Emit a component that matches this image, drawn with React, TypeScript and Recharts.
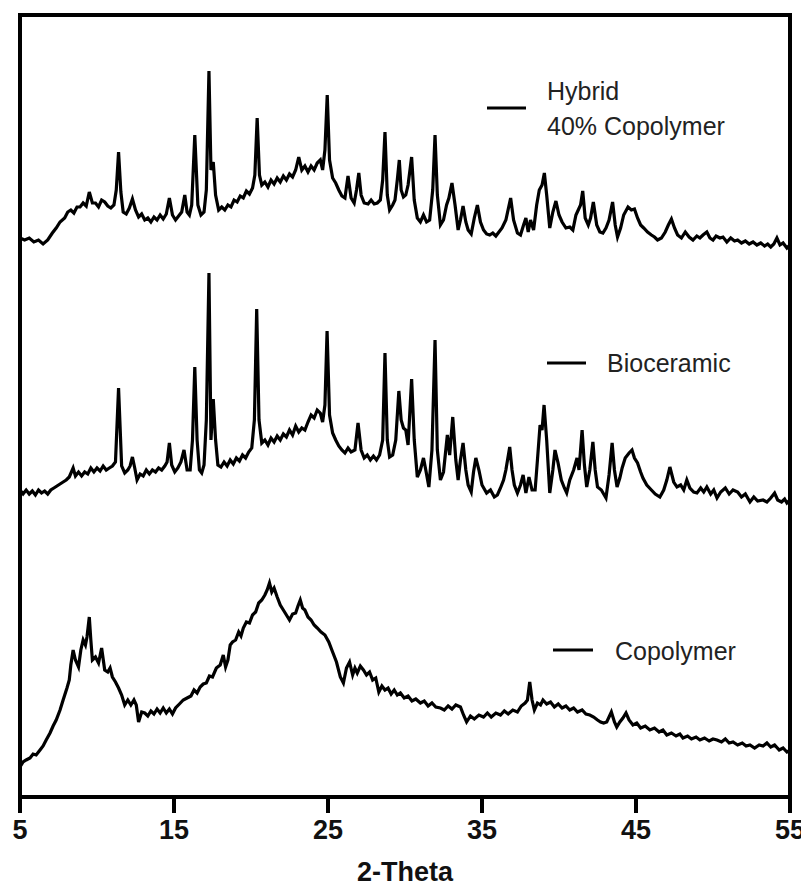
import { LineChart, Line, XAxis, YAxis, ReferenceArea } from "recharts";

// 2-theta ticks and series names
const xTicks = [5, 15, 25, 35, 45, 55];
const seriesNames = ["Hybrid|40% Copolymer", "Bioceramic", "Copolymer"];

// [2-theta, intensity (a.u., stacked offset included)]
const hybrid: [number, number][] = [
  [5.0, 559], [5.3, 557], [5.6, 559], [5.9, 555], [6.2, 557], [6.5, 553], [6.8, 557], [7.1, 564],
  [7.35, 569], [7.6, 575], [7.9, 579], [8.1, 585], [8.3, 587], [8.5, 584], [8.7, 590], [8.9, 590],
  [9.1, 594], [9.3, 591], [9.5, 605], [9.7, 594], [9.9, 594], [10.1, 590], [10.3, 597], [10.5, 595],
  [10.7, 591], [10.9, 589], [11.1, 592], [11.25, 607], [11.4, 645], [11.55, 605], [11.7, 585], [11.9, 583],
  [12.1, 589], [12.3, 598], [12.5, 587], [12.7, 580], [12.9, 583], [13.1, 577], [13.3, 579], [13.5, 575],
  [13.7, 580], [13.9, 577], [14.1, 582], [14.3, 578], [14.5, 583], [14.7, 599], [14.9, 582], [15.1, 577],
  [15.3, 581], [15.5, 585], [15.7, 602], [15.85, 585], [16.0, 582], [16.15, 592], [16.35, 662], [16.55, 592],
  [16.75, 582], [16.95, 585], [17.1, 607], [17.27, 726], [17.4, 627], [17.55, 635], [17.7, 602], [17.9, 587],
  [18.1, 590], [18.3, 587], [18.5, 592], [18.7, 590], [18.9, 597], [19.1, 595], [19.3, 601], [19.5, 599],
  [19.7, 606], [19.9, 603], [20.1, 609], [20.25, 622], [20.4, 679], [20.55, 622], [20.7, 612], [20.9, 615],
  [21.1, 610], [21.3, 617], [21.5, 613], [21.7, 619], [21.9, 615], [22.1, 621], [22.3, 617], [22.5, 623],
  [22.7, 620], [22.9, 627], [23.1, 640], [23.3, 627], [23.5, 631], [23.7, 625], [23.9, 631], [24.1, 627],
  [24.3, 634], [24.5, 637], [24.65, 627], [24.8, 647], [24.95, 702], [25.1, 637], [25.3, 619], [25.5, 614],
  [25.7, 607], [25.9, 601], [26.1, 599], [26.3, 621], [26.5, 599], [26.7, 594], [26.85, 607], [27.0, 624],
  [27.15, 602], [27.35, 594], [27.6, 593], [27.8, 597], [28.0, 593], [28.2, 594], [28.4, 597], [28.55, 617],
  [28.7, 665], [28.85, 602], [29.0, 587], [29.2, 592], [29.35, 597], [29.5, 617], [29.63, 637], [29.75, 607],
  [29.9, 600], [30.05, 602], [30.2, 612], [30.43, 640], [30.6, 597], [30.8, 579], [31.0, 575], [31.2, 582],
  [31.4, 575], [31.6, 577], [31.8, 607], [31.95, 662], [32.1, 602], [32.3, 572], [32.5, 577], [32.7, 592],
  [32.85, 599], [33.05, 614], [33.25, 592], [33.45, 567], [33.6, 577], [33.77, 591], [33.95, 575], [34.1, 567],
  [34.3, 563], [34.5, 579], [34.7, 592], [34.9, 575], [35.1, 567], [35.3, 563], [35.5, 562], [35.7, 564],
  [35.9, 561], [36.1, 565], [36.3, 569], [36.55, 577], [36.86, 599], [37.05, 577], [37.3, 564], [37.5, 562],
  [37.7, 572], [37.85, 579], [38.0, 565], [38.15, 577], [38.35, 567], [38.55, 592], [38.72, 607], [38.9, 612],
  [39.05, 624], [39.2, 602], [39.4, 569], [39.6, 585], [39.8, 596], [40.0, 582], [40.2, 575], [40.45, 569],
  [40.7, 570], [40.9, 567], [41.1, 582], [41.25, 587], [41.4, 592], [41.54, 606], [41.7, 579], [41.9, 572],
  [42.05, 579], [42.23, 595], [42.45, 572], [42.65, 565], [42.85, 564], [43.05, 569], [43.25, 577], [43.48, 595],
  [43.65, 572], [43.8, 560], [44.0, 569], [44.2, 582], [44.48, 590], [44.7, 587], [44.9, 588], [45.1, 579],
  [45.3, 572], [45.5, 569], [45.75, 565], [46.0, 562], [46.2, 560], [46.4, 557], [46.65, 559], [46.9, 565],
  [47.1, 572], [47.3, 578], [47.5, 569], [47.7, 562], [47.95, 559], [48.2, 565], [48.45, 560], [48.7, 557],
  [48.95, 561], [49.15, 559], [49.35, 562], [49.6, 565], [49.8, 559], [50.0, 557], [50.2, 561], [50.45, 559],
  [50.65, 560], [50.9, 555], [51.15, 559], [51.4, 556], [51.6, 557], [51.85, 554], [52.1, 556], [52.35, 553],
  [52.6, 555], [52.85, 552], [53.1, 554], [53.35, 551], [53.55, 553], [53.75, 550], [53.95, 553], [54.15, 559],
  [54.35, 552], [54.55, 554], [54.8, 549], [55.0, 552],
];

const bioceramic: [number, number][] = [
  [5.0, 307], [5.2, 303], [5.4, 307], [5.6, 303], [5.8, 306], [6.0, 302], [6.2, 307], [6.4, 304],
  [6.6, 306], [6.8, 303], [7.0, 307], [7.2, 309], [7.4, 311], [7.6, 313], [7.8, 315], [8.0, 317],
  [8.2, 320], [8.45, 329], [8.6, 321], [8.8, 325], [9.0, 321], [9.2, 325], [9.4, 323], [9.6, 329],
  [9.8, 325], [10.0, 329], [10.2, 326], [10.4, 331], [10.6, 327], [10.8, 329], [11.0, 331], [11.2, 335],
  [11.4, 409], [11.6, 331], [11.8, 324], [12.0, 327], [12.15, 331], [12.3, 340], [12.45, 329], [12.6, 317],
  [12.8, 323], [13.0, 321], [13.2, 327], [13.4, 323], [13.6, 327], [13.8, 325], [14.0, 329], [14.2, 327],
  [14.4, 331], [14.55, 335], [14.7, 354], [14.85, 332], [15.05, 325], [15.25, 329], [15.45, 335], [15.65, 347],
  [15.85, 327], [16.05, 327], [16.2, 357], [16.35, 430], [16.5, 357], [16.65, 327], [16.8, 324], [16.95, 332],
  [17.1, 377], [17.27, 524], [17.4, 357], [17.55, 398], [17.7, 357], [17.85, 332], [18.05, 330], [18.25, 335],
  [18.45, 331], [18.65, 337], [18.85, 333], [19.05, 339], [19.25, 336], [19.45, 342], [19.65, 339], [19.85, 345],
  [20.05, 349], [20.22, 377], [20.37, 488], [20.52, 377], [20.7, 354], [20.9, 357], [21.1, 352], [21.3, 359],
  [21.5, 355], [21.7, 361], [21.9, 357], [22.1, 363], [22.3, 360], [22.5, 367], [22.7, 362], [22.9, 371],
  [23.1, 365], [23.3, 369], [23.5, 367], [23.7, 375], [23.9, 382], [24.1, 379], [24.3, 387], [24.5, 384],
  [24.65, 375], [24.8, 392], [24.94, 466], [25.1, 382], [25.3, 364], [25.5, 357], [25.7, 351], [25.9, 347],
  [26.1, 344], [26.3, 349], [26.5, 345], [26.75, 347], [26.95, 374], [27.15, 347], [27.35, 339], [27.55, 342],
  [27.75, 337], [27.95, 341], [28.15, 337], [28.35, 342], [28.55, 357], [28.7, 444], [28.85, 357], [29.0, 340],
  [29.2, 342], [29.4, 357], [29.6, 406], [29.75, 377], [29.9, 369], [30.05, 367], [30.2, 352], [30.43, 418],
  [30.6, 357], [30.8, 320], [31.0, 327], [31.2, 339], [31.35, 327], [31.55, 310], [31.75, 347], [31.95, 457],
  [32.1, 347], [32.3, 317], [32.5, 325], [32.75, 362], [32.9, 342], [33.1, 380], [33.3, 337], [33.45, 317],
  [33.6, 337], [33.77, 354], [33.95, 327], [34.1, 312], [34.3, 305], [34.45, 325], [34.6, 339], [34.8, 327],
  [35.0, 312], [35.3, 304], [35.55, 307], [35.8, 300], [36.0, 302], [36.2, 309], [36.4, 317], [36.55, 327],
  [36.8, 350], [36.95, 327], [37.1, 312], [37.3, 304], [37.5, 312], [37.67, 322], [37.85, 304], [38.05, 320],
  [38.25, 307], [38.45, 307], [38.6, 337], [38.77, 372], [38.9, 367], [39.03, 392], [39.2, 357], [39.4, 304],
  [39.6, 327], [39.74, 347], [39.94, 334], [40.15, 317], [40.35, 309], [40.5, 304], [40.7, 317], [40.95, 327],
  [41.17, 339], [41.3, 327], [41.5, 367], [41.65, 332], [41.8, 310], [42.0, 327], [42.2, 355], [42.35, 327],
  [42.5, 310], [42.75, 307], [43.05, 299], [43.25, 322], [43.45, 354], [43.6, 327], [43.77, 310], [43.95, 319],
  [44.1, 329], [44.3, 339], [44.55, 344], [44.74, 347], [44.9, 339], [45.1, 334], [45.3, 325], [45.45, 319],
  [45.7, 312], [46.0, 307], [46.25, 303], [46.55, 300], [46.8, 307], [47.0, 317], [47.2, 330], [47.45, 315],
  [47.66, 310], [47.9, 312], [48.1, 307], [48.3, 317], [48.5, 309], [48.75, 305], [48.96, 304], [49.2, 309],
  [49.4, 305], [49.6, 310], [49.85, 303], [50.05, 307], [50.26, 299], [50.5, 305], [50.8, 309], [51.05, 303],
  [51.3, 307], [51.6, 305], [51.85, 300], [52.1, 303], [52.4, 295], [52.65, 300], [52.9, 296], [53.25, 297],
  [53.5, 295], [53.75, 299], [54.0, 304], [54.2, 297], [54.45, 295], [54.65, 298], [54.8, 294], [55.0, 297],
];

const copolymer: [number, number][] = [
  [5.0, 30], [5.2, 35], [5.4, 37], [5.65, 39], [5.85, 43], [6.05, 42], [6.3, 47], [6.5, 51],
  [6.7, 57], [6.95, 64], [7.15, 71], [7.35, 77], [7.6, 87], [7.8, 97], [8.05, 109], [8.2, 117],
  [8.3, 132], [8.45, 147], [8.6, 137], [8.8, 130], [8.95, 147], [9.1, 157], [9.25, 152], [9.35, 160],
  [9.5, 180], [9.6, 157], [9.7, 137], [9.9, 140], [10.1, 134], [10.3, 149], [10.5, 127], [10.7, 125],
  [10.85, 129], [11.0, 120], [11.2, 115], [11.4, 109], [11.6, 102], [11.8, 92], [12.0, 97], [12.2, 92],
  [12.4, 97], [12.55, 92], [12.7, 75], [12.9, 85], [13.1, 84], [13.3, 81], [13.5, 86], [13.7, 83],
  [13.9, 88], [14.1, 84], [14.3, 89], [14.5, 84], [14.7, 88], [14.9, 83], [15.1, 89], [15.35, 93],
  [15.6, 97], [15.85, 99], [16.1, 101], [16.3, 107], [16.5, 104], [16.7, 110], [16.9, 113], [17.1, 114],
  [17.3, 121], [17.5, 120], [17.75, 129], [18.0, 132], [18.2, 142], [18.35, 130], [18.5, 137], [18.65, 152],
  [18.8, 155], [19.0, 157], [19.2, 165], [19.35, 161], [19.5, 169], [19.7, 175], [19.9, 174], [20.1, 182],
  [20.3, 185], [20.5, 194], [20.7, 197], [20.9, 202], [21.05, 207], [21.2, 214], [21.35, 205], [21.5, 209],
  [21.7, 200], [21.9, 192], [22.1, 187], [22.3, 182], [22.5, 177], [22.7, 183], [22.9, 184], [23.05, 191],
  [23.2, 197], [23.35, 189], [23.5, 187], [23.7, 180], [23.9, 177], [24.1, 172], [24.3, 169], [24.55, 165],
  [24.8, 162], [25.05, 155], [25.3, 145], [25.55, 135], [25.8, 120], [26.0, 114], [26.2, 129], [26.4, 135],
  [26.6, 122], [26.75, 129], [26.9, 124], [27.1, 131], [27.3, 127], [27.5, 122], [27.7, 125], [27.9, 117],
  [28.1, 119], [28.3, 105], [28.5, 111], [28.7, 107], [28.9, 109], [29.1, 103], [29.3, 107], [29.5, 102],
  [29.7, 104], [29.95, 99], [30.2, 101], [30.45, 96], [30.7, 98], [31.0, 94], [31.25, 96], [31.5, 91],
  [31.75, 94], [32.0, 90], [32.3, 89], [32.55, 87], [32.8, 91], [33.05, 88], [33.3, 92], [33.6, 90],
  [33.8, 82], [34.0, 75], [34.25, 81], [34.5, 78], [34.8, 82], [35.1, 80], [35.35, 84], [35.6, 80],
  [35.9, 84], [36.2, 82], [36.45, 86], [36.7, 83], [37.0, 87], [37.3, 85], [37.55, 91], [37.8, 94],
  [37.95, 97], [38.1, 115], [38.25, 97], [38.4, 87], [38.6, 94], [38.8, 92], [38.96, 97], [39.2, 93],
  [39.45, 95], [39.7, 90], [39.95, 93], [40.2, 89], [40.45, 91], [40.7, 87], [40.95, 89], [41.2, 85],
  [41.5, 87], [41.75, 83], [42.0, 82], [42.25, 80], [42.5, 77], [42.7, 75], [42.9, 74], [43.1, 75],
  [43.4, 85], [43.6, 75], [43.75, 70], [43.95, 75], [44.15, 79], [44.35, 84], [44.55, 77], [44.8, 72],
  [45.05, 74], [45.3, 69], [45.6, 71], [45.9, 67], [46.2, 69], [46.5, 65], [46.75, 67], [47.0, 62],
  [47.3, 64], [47.6, 61], [47.85, 63], [48.05, 59], [48.35, 61], [48.6, 58], [48.9, 60], [49.15, 57],
  [49.45, 59], [49.75, 56], [50.0, 58], [50.26, 57], [50.55, 55], [50.8, 58], [51.05, 54], [51.3, 55],
  [51.6, 52], [51.9, 54], [52.15, 51], [52.4, 52], [52.7, 49], [53.0, 52], [53.25, 51], [53.5, 54],
  [53.75, 50], [54.0, 52], [54.3, 47], [54.55, 49], [54.8, 45], [55.0, 47],
];

const toRows = (pts: [number, number][]) => pts.map(([theta, v]) => ({ theta, v }));

const axisFont = "'Liberation Sans Narrow', 'Arial Narrow', 'Liberation Sans', Arial, sans-serif";
const legendFont = "'Liberation Sans', Arial, sans-serif";

function LegendOverlay() {
  // short black dash + label, placed beside each trace like the original figure
  const txt = { fontFamily: legendFont, fontSize: 25, fill: "#222" };
  return (
    <svg width={801} height={885} style={{ position: "absolute", left: 0, top: 0, pointerEvents: "none" }}>
      <line x1={479} x2={518} y1={100} y2={100} stroke="#000" strokeWidth={3} />
      <text x={539} y={92} {...txt}>{seriesNames[0].split("|")[0]}</text>
      <text x={539} y={127} {...txt}>{seriesNames[0].split("|")[1]}</text>

      <line x1={539} x2={578} y1={355} y2={355} stroke="#000" strokeWidth={3} />
      <text x={599} y={364} {...txt}>{seriesNames[1]}</text>

      <line x1={545} x2={585} y1={642} y2={642} stroke="#000" strokeWidth={3} />
      <text x={607} y={652} {...txt}>{seriesNames[2]}</text>
    </svg>
  );
}

export default function App() {
  return (
    <div style={{ position: "relative", width: 801, height: 885 }}>
      <LineChart width={801} height={885} margin={{ top: 7, right: 19, left: 12, bottom: 0 }}>
        <XAxis
          dataKey="theta"
          type="number"
          domain={[5, 55]}
          ticks={xTicks}
          allowDataOverflow
          axisLine={{ stroke: "#000", strokeWidth: 4 }}
          tickLine={{ stroke: "#000", strokeWidth: 4 }}
          tickSize={16}
          tickMargin={7}
          height={96}
          tick={{ fill: "#111", fontFamily: axisFont, fontSize: 27, fontWeight: 700 }}
          label={{
            value: "2-Theta",
            position: "insideBottom",
            offset: 12,
            fill: "#111",
            fontFamily: axisFont,
            fontSize: 27,
            fontWeight: 700,
          }}
        />
        <YAxis hide type="number" domain={[0, 782]} allowDataOverflow />
        <ReferenceArea x1={5} x2={55} y1={0} y2={782} fill="none" stroke="#000" strokeWidth={4} ifOverflow="visible" />
        <Line data={toRows(hybrid)} dataKey="v" stroke="#000" strokeWidth={3.2} dot={false} isAnimationActive={false} type="linear" />
        <Line data={toRows(bioceramic)} dataKey="v" stroke="#000" strokeWidth={3.2} dot={false} isAnimationActive={false} type="linear" />
        <Line data={toRows(copolymer)} dataKey="v" stroke="#000" strokeWidth={3.2} dot={false} isAnimationActive={false} type="linear" />
      </LineChart>
      <LegendOverlay />
    </div>
  );
}
